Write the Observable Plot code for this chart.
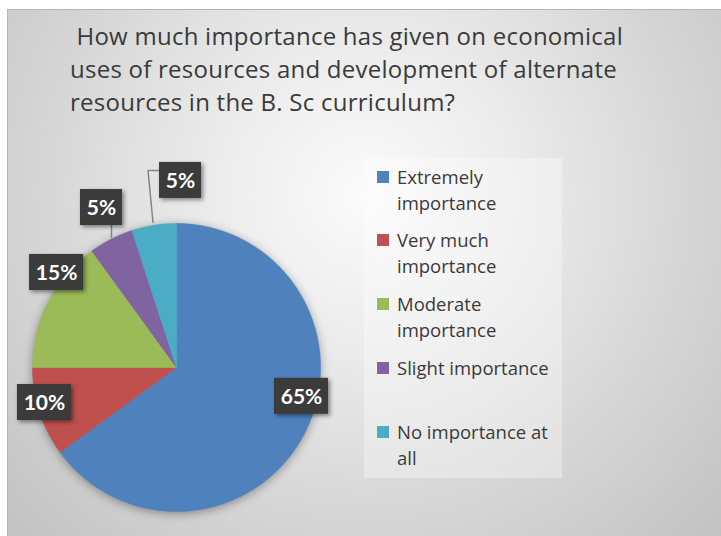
<!DOCTYPE html>
<html>
<head>
<meta charset="utf-8">
<script src="https://cdn.jsdelivr.net/npm/d3@7"></script>
<script src="https://cdn.jsdelivr.net/npm/@observablehq/plot@0.6"></script>
<style>
  html, body { margin: 0; padding: 0; background: #ffffff; }
  #chart { position: relative; width: 721px; height: 536px; overflow: hidden; background: #fff; font-family: "Open Sans", Lato, sans-serif; }
  #frame { position: absolute; left: 7px; top: 9px; right: 0; bottom: 0;
    border-left: 1px solid #b4b4b4; border-top: 1px solid #b4b4b4;
    background: radial-gradient(circle farthest-corner at 50% 35%, #fbfbfb 0%, #ececec 30%, #d6d6d6 65%, #c2c2c2 100%); }
  #title { position: absolute; left: 70px; top: 19px; font-size: 24px; letter-spacing: 0.25px; line-height: 33px; color: #3a3a3a; white-space: pre; }
  #legend { position: absolute; left: 364px; top: 158px; width: 198px; height: 320px; background: rgba(255,255,255,0.32); }
  .item { position: absolute; left: 0; width: 198px; }
  .sw { position: absolute; left: 13px; width: 12px; height: 12px; }
  .lt { position: absolute; left: 33px; font-size: 18.5px; line-height: 25px; color: #3a3a3a; white-space: nowrap; }
  #plot { position: absolute; left: 0; top: 0; }
</style>
</head>
<body>
<div id="chart">
  <div id="frame"></div>
  <div id="title"> How much importance has given on economical
uses of resources and development of alternate
resources in the B. Sc curriculum?</div>
  <div id="legend"></div>
  <div id="plot"></div>
</div>
<script>
// ---- data ----
const categories = ["Extremely importance", "Very much importance", "Moderate importance", "Slight importance", "No importance at all"];
const values = [65, 10, 15, 5, 5];
const colors = ["#4F81BD", "#C0504D", "#9BBB59", "#8064A2", "#4BACC6"];
const labels = ["65%", "10%", "15%", "5%", "5%"];
const legendLines = [["Extremely", "importance"], ["Very much", "importance"], ["Moderate", "importance"], ["Slight importance"], ["No importance at", "all"]];

// ---- layout (not data) ----
const R = 144, CX = 176, CY = 367;
// label box centres in radius units, relative to pie centre (Excel best-fit placement)
const labelPos = [[0.868, -0.2], [-0.917, -0.243], [-0.833, 0.66], [-0.521, 1.111], [0.028, 1.299]];
const boxW = [54, 54, 54, 42, 42], boxH = 36;

// slice polygons in data space (unit circle, angle clockwise from top)
const total = d3.sum(values);
const slicePts = [];
let acc = 0;
values.forEach((v, i) => {
  const a0 = acc / total * 2 * Math.PI, a1 = (acc + v) / total * 2 * Math.PI;
  acc += v;
  slicePts.push({category: categories[i], x: 0, y: 0});
  const n = Math.max(2, Math.ceil((a1 - a0) / 0.01));
  for (let k = 0; k <= n; k++) {
    const a = a0 + (a1 - a0) * k / n;
    slicePts.push({category: categories[i], x: Math.sin(a), y: Math.cos(a)});
  }
});

const boxes = labels.map((t, i) => ({
  label: t, cx: labelPos[i][0], cy: labelPos[i][1],
  x1: labelPos[i][0] - boxW[i] / 2 / R, x2: labelPos[i][0] + boxW[i] / 2 / R,
  y1: labelPos[i][1] - boxH / 2 / R, y2: labelPos[i][1] + boxH / 2 / R
}));

// leader lines for the two small slices (from label box toward the slice arc)
const px = (p) => (p - CX) / R, py = (p) => (CY - p) / R;
const leaders = [
  {id: "purple", x: px(111), y: py(224)}, {id: "purple", x: px(111), y: py(237)},
  {id: "cyan", x: px(159), y: py(170)}, {id: "cyan", x: px(147.5), y: py(170)}, {id: "cyan", x: px(152.5), y: py(222)}
];

const plot = Plot.plot({
  width: 721, height: 536,
  margin: 0,
  style: {background: "transparent", overflow: "visible"},
  x: {domain: [-1, 1], range: [CX - R, CX + R], axis: null},
  y: {domain: [-1, 1], range: [CY + R, CY - R], axis: null},
  color: {domain: categories, range: colors},
  marks: [
    Plot.line(slicePts, {x: "x", y: "y", z: "category", fill: "category", stroke: "category", strokeWidth: 0.6, curve: "linear-closed"}),
    Plot.line(leaders, {x: "x", y: "y", z: "id", stroke: "#858585", strokeWidth: 1.5}),
    Plot.rect(boxes, {x1: "x1", x2: "x2", y1: "y1", y2: "y2", fill: "#3b3b3b"}),
    Plot.text(boxes, {x: "cx", y: "cy", text: "label", fill: "white", fontSize: 21, fontWeight: "bold", fontFamily: "Lato, sans-serif", dy: 1})
  ]
});
const groups = plot.querySelectorAll(":scope > g");
if (groups[0]) groups[0].style.filter = "drop-shadow(0px 2px 5px rgba(0,0,0,0.35))";
if (groups[2]) groups[2].style.filter = "drop-shadow(2px 2px 2px rgba(0,0,0,0.45))";
document.getElementById("plot").appendChild(plot);

// legend
const legendY = [177, 240, 304, 368, 432];
const lg = d3.select("#legend");
categories.forEach((c, i) => {
  const it = lg.append("div").attr("class", "item").style("top", (legendY[i] - 158) + "px");
  it.append("div").attr("class", "sw").style("top", "-6px").style("background", colors[i]);
  legendLines[i].forEach((t, j) => {
    it.append("div").attr("class", "lt").style("top", (-13 + j * 26) + "px").text(t);
  });
});
</script>
</body>
</html>
